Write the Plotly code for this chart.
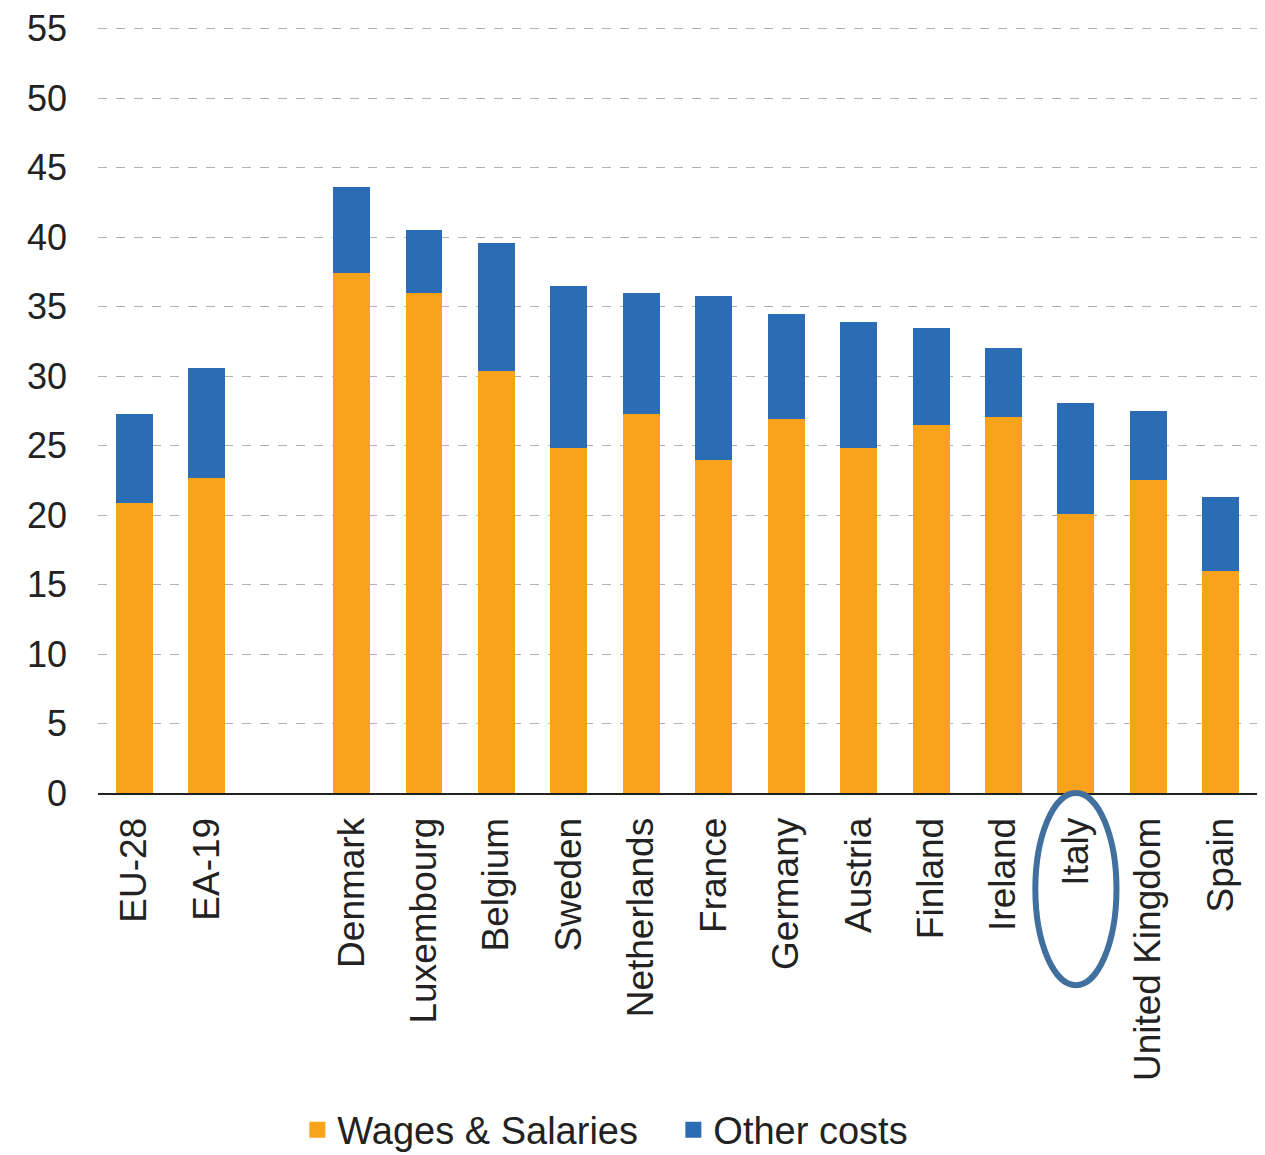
import plotly.graph_objects as go

categories = ["EU-28", "EA-19", " ", "Denmark", "Luxembourg", "Belgium", "Sweden",
              "Netherlands", "France", "Germany", "Austria", "Finland", "Ireland",
              "Italy", "United Kingdom", "Spain"]
wages = [20.9, 22.7, None, 37.4, 36.0, 30.4, 24.8, 27.3, 24.0, 26.9, 24.8, 26.5, 27.1, 20.1, 22.5, 16.0]
totals = [27.3, 30.6, None, 43.6, 40.5, 39.6, 36.5, 36.0, 35.8, 34.5, 33.9, 33.5, 32.0, 28.1, 27.5, 21.3]
other = [None if w is None else round(t - w, 2) for w, t in zip(wages, totals)]
yticks = list(range(0, 60, 5))
series_names = ["Wages & Salaries", "Other costs"]

ORANGE = "#F8A31B"
BLUE = "#2A6DB4"
FONT = "Liberation Sans, Arial, sans-serif"

fig = go.Figure()
fig.add_trace(go.Bar(x=categories, y=wages, name=series_names[0], marker_color=ORANGE,
                     marker_line_width=0, showlegend=False))
fig.add_trace(go.Bar(x=categories, y=other, name=series_names[1], marker_color=BLUE,
                     marker_line_width=0, showlegend=False))
# legend entries with larger square swatches
for nm, col in zip(series_names, [ORANGE, BLUE]):
    fig.add_trace(go.Scatter(x=[None], y=[None], mode="markers", name=nm,
                             marker=dict(symbol="square", size=18, color=col)))

fig.update_layout(
    barmode="stack",
    bargap=0.49,
    width=1265, height=1155,
    margin=dict(l=90, r=16, t=7, b=370),
    paper_bgcolor="white", plot_bgcolor="white",
    font=dict(family=FONT, size=36, color="#222222"),
    showlegend=True,
    legend=dict(orientation="h", x=0.172, xanchor="left",
                yref="container", y=0.0286, yanchor="middle",
                font=dict(size=38, color="#222222"), itemwidth=30, traceorder="normal",
                tracegroupgap=0, entrywidth=331),
    xaxis=dict(type="category", categoryorder="array", categoryarray=categories,
               tickangle=-90, showgrid=False, showline=True, linecolor="#222222", linewidth=2,
               ticks="", ticklabelstandoff=8, automargin=False,
               tickfont=dict(size=37, color="#222222")),
    yaxis=dict(range=[0, 56], tickvals=yticks, showgrid=True, gridcolor="#B0B0B0",
               griddash="dash", gridwidth=1, zeroline=False, showline=False, ticks="",
               ticklabelstandoff=30, automargin=False,
               tickfont=dict(size=36, color="#222222")),
)

fig.add_shape(type="circle", xref="x", yref="paper",
              x0=categories.index("Italy") - 0.56, x1=categories.index("Italy") + 0.56,
              y0=-0.247, y1=0.0,
              line=dict(color="#41709F", width=6))

fig.write_html("out.html")
